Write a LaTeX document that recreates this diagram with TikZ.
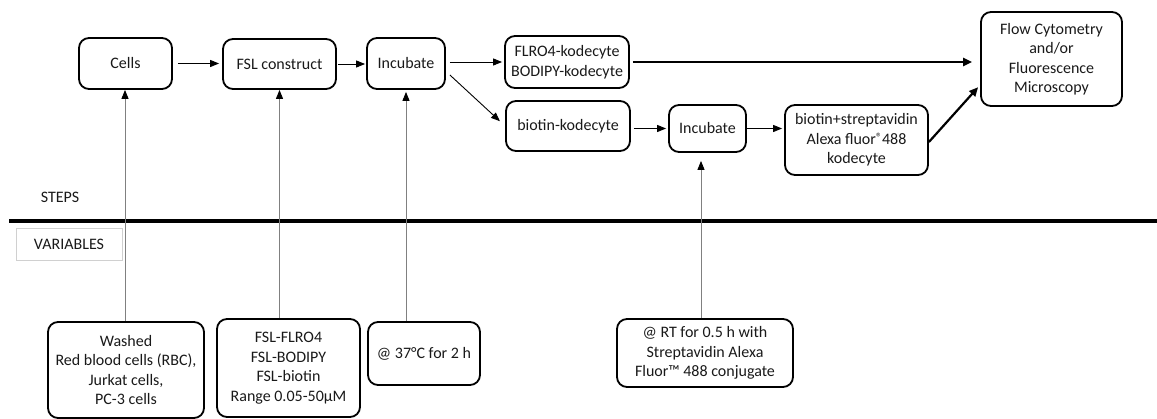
\documentclass[tikz,border=0pt]{standalone}
\usepackage{fontspec}
\setmainfont{Carlito}
\usetikzlibrary{arrows.meta}
\definecolor{linegray}{HTML}{808080}
\definecolor{framegray}{HTML}{D0D0D0}
\newcommand{\regmark}{\raisebox{3pt}{\fontsize{12}{12}\selectfont ®}}
\tikzset{
  box/.style={draw, line width=1.8pt, rounded corners=10pt, align=center, inner sep=2pt},
  flow/.style={draw=black, line width=0.9pt, -{Triangle[length=9pt,width=7pt]}},
  heavy/.style={draw=black, line width=2.2pt, -{Triangle[length=9pt,width=8pt]}},
  feed/.style={draw=linegray, line width=0.9pt, -{Triangle[length=9pt,width=7pt,color=black]}},
  lbl/.style={font=\fontsize{16}{19.5}\selectfont, text=black!90}
}
\begin{document}
\begin{tikzpicture}[x=1pt, y=-1pt, every node/.style={lbl}]
\useasboundingbox (0,0) rectangle (1157,419);

% steps row
\node[box, minimum width=93pt, minimum height=51pt] (cells) at (125.5,63.5) {Cells};
\node[box, minimum width=113pt, minimum height=50pt] (fsl) at (279.5,64) {FSL construct};
\node[box, minimum width=78pt, minimum height=51pt] (inc) at (406,63.5) {Incubate};
\node[box, minimum width=124pt, minimum height=52pt] (flro) at (567,62) {FLRO4-kodecyte\\BODIPY-kodecyte};
\node[box, minimum width=124pt, minimum height=50pt] (biok) at (568,126) {biotin-kodecyte};
\node[box, minimum width=77pt, minimum height=47pt] (inc2) at (707.5,128.5) {Incubate};
\node[box, minimum width=143pt, minimum height=70pt] (strep) at (856.5,140) {biotin+streptavidin\\Alexa fluor\regmark488\\kodecyte};
\node[box, minimum width=141pt, minimum height=94pt] (out) at (1051.5,59) {Flow Cytometry\\and/or\\Fluorescence\\Microscopy};

% divider between steps and variables
\node (steps) at (60,197) {STEPS};
\node[draw=framegray, line width=0.6pt, minimum width=106pt, minimum height=32pt] (vars) at (69,244) {VARIABLES};
\coordinate (divL) at (9,221);
\coordinate (divR) at (1157,221);
\draw[line width=3.5pt] (divL) -- (divR);

% variables row
\node[box, minimum width=156pt, minimum height=96pt] (washed) at (126,370) {Washed\\Red blood cells (RBC),\\Jurkat cells,\\PC-3 cells};
\node[box, minimum width=143pt, minimum height=98pt] (fslvar) at (288.5,368) {FSL-FLRO4\\FSL-BODIPY\\FSL-biotin\\Range 0.05-50µM};
\node[box, minimum width=112pt, minimum height=63pt] (temp) at (424,353.5) {@ 37°C for 2 h};
\node[box, minimum width=176pt, minimum height=68pt] (rt) at (705,353) {@ RT for 0.5 h with\\Streptavidin Alexa\\Fluor™ 488 conjugate};

% step connectors
\draw[flow, shorten <=5pt, shorten >=3pt] (cells.east) -- (cells.east -| fsl.west);
\draw[flow, shorten <=1pt, shorten >=1pt] (fsl.east) -- (fsl.east -| inc.west);
\draw[flow, shorten <=4pt, shorten >=2pt] (inc.east |- flro.west) -- (flro.west);
\draw[flow, shorten >=7pt] ([xshift=4pt, yshift=-11.5pt]inc.east) -- (biok.west);
\draw[heavy, shorten <=3pt, shorten >=8pt] (flro.east) -- (flro.east -| out.west);
\draw[flow, shorten <=3pt, shorten >=2pt] (biok.east |- inc2.west) -- (inc2.west);
\draw[flow, shorten >=2pt] (inc2.east) -- (inc2.east -| strep.west);
\draw[heavy, shorten >=3pt] ([yshift=-2pt]strep.east) -- ([yshift=-26pt]out.west);

% variable feeds
\draw[feed] ([xshift=-1pt]washed.north) -- ([xshift=-1pt]washed.north |- cells.south);
\draw[feed] (fsl.south |- fslvar.north) -- (fsl.south);
\draw[feed, shorten >=2pt] (inc.south |- temp.north) -- (inc.south);
\draw[feed, shorten >=8pt] ([xshift=-4pt]rt.north) -- ([xshift=-4pt]rt.north |- inc2.south);
\end{tikzpicture}
\end{document}
